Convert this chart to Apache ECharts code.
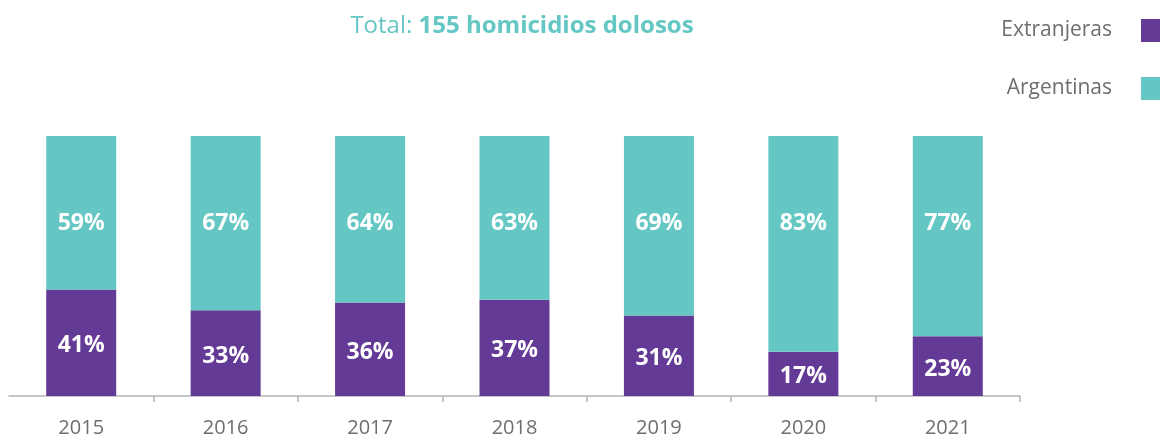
<!DOCTYPE html>
<html>
<head>
<meta charset="utf-8">
<script src="https://cdn.jsdelivr.net/npm/echarts@6/dist/echarts.min.js"></script>
<style>
html,body{margin:0;padding:0;background:#fff;}
#chart1{width:1160px;height:434px;}
</style>
</head>
<body>
<div id="chart1"></div>
<script>
var years = ['2015', '2016', '2017', '2018', '2019', '2020', '2021'];
var extranjeras = [41, 33, 36, 37, 31, 17, 23];
var argentinas = [59, 67, 64, 63, 69, 83, 77];
var total = 155;

var purple = '#633a95';
var teal = '#65c7c4';
var grey = '#6d6e71';
var font = '"Open Sans", Lato, sans-serif';

var chart1 = echarts.init(document.getElementById('chart1'));
var option1 = {
    backgroundColor: '#fff',
    textStyle: { fontFamily: font },
    title: {
        text: '{a|Total: }{b|' + total + ' homicidios dolosos}',
        left: 522,
        textAlign: 'center',
        top: 14,
        padding: 0,
        textStyle: {
            rich: {
                a: { color: teal, fontSize: 24, fontWeight: 'normal', fontFamily: font },
                b: { color: teal, fontSize: 24, fontWeight: 'bold', fontFamily: font }
            }
        }
    },
    legend: {
        orient: 'vertical',
        right: 0,
        top: 19,
        padding: 0,
        align: 'right',
        itemWidth: 19,
        itemHeight: 23,
        itemGap: 35,
        icon: 'rect',
        textStyle: { color: grey, fontSize: 21, padding: [0, 24, 0, 0] },
        data: ['Extranjeras', 'Argentinas']
    },
    grid: { left: 9, right: 140, top: 136, bottom: 38, outerBoundsMode: 'none' },
    xAxis: {
        type: 'category',
        data: years,
        axisLine: { lineStyle: { color: '#b3b4b8', width: 1.5 } },
        axisTick: {
            show: true,
            length: 6,
            lineStyle: { color: '#b3b4b8', width: 1.5 },
            // no ticks at the two ends of the axis
            interval: function (index) { return index > 0 && index < years.length; }
        },
        axisLabel: { color: grey, fontSize: 20, margin: 22 }
    },
    yAxis: { type: 'value', min: 0, max: 100, show: false },
    series: [
        {
            name: 'Extranjeras',
            type: 'bar',
            stack: 'total',
            barWidth: 70,
            itemStyle: { color: purple },
            label: {
                show: true,
                position: 'inside',
                offset: [0, 3],
                color: '#fff',
                fontSize: 23,
                fontWeight: 'bold',
                formatter: '{c}%'
            },
            data: extranjeras
        },
        {
            name: 'Argentinas',
            type: 'bar',
            stack: 'total',
            barWidth: 70,
            itemStyle: { color: teal },
            label: {
                show: true,
                position: ['50%', 87],
                align: 'center',
                verticalAlign: 'middle',
                color: '#fff',
                fontSize: 23,
                fontWeight: 'bold',
                formatter: '{c}%'
            },
            data: argentinas
        }
    ]
};
chart1.setOption(option1);

window.onresize = function () {
    chart1.resize();
};
</script>
</body>
</html>
